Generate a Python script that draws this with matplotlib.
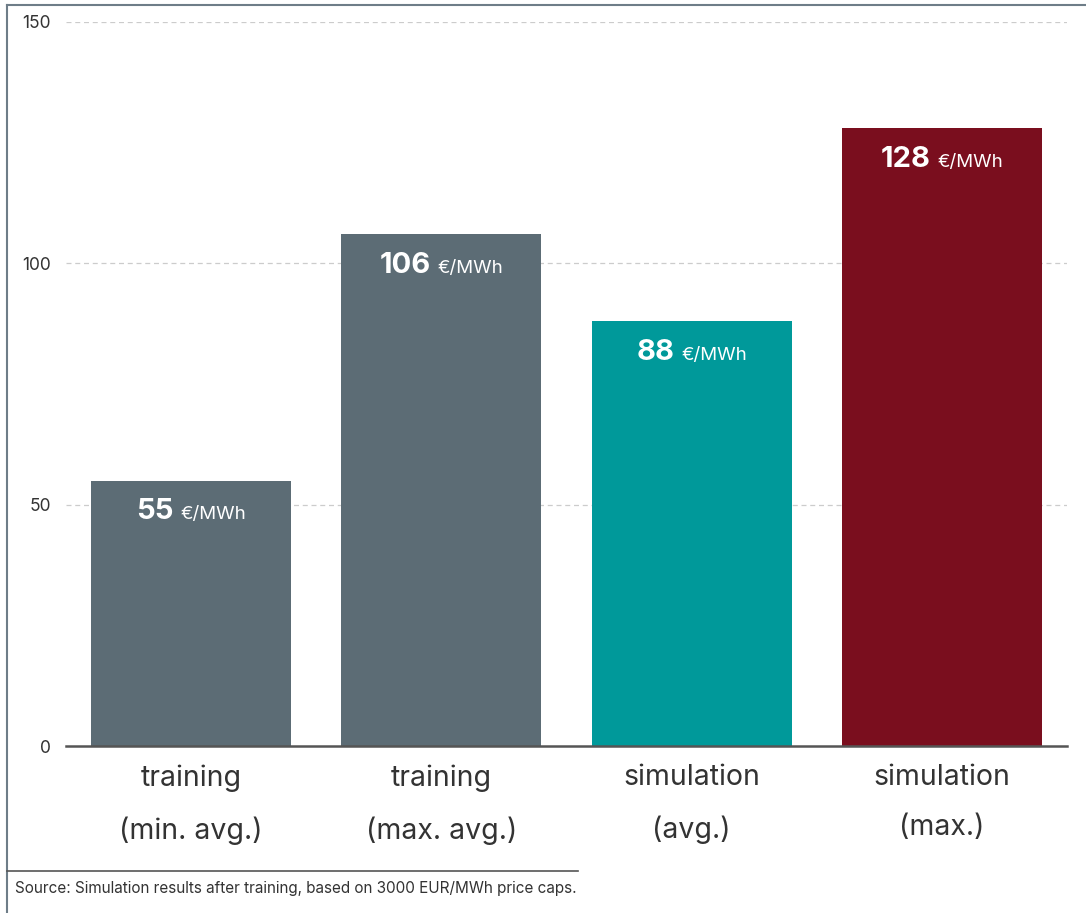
import matplotlib
matplotlib.use('Agg')
import matplotlib.pyplot as plt
from matplotlib.lines import Line2D
from matplotlib.offsetbox import TextArea, HPacker, AnnotationBbox

plt.rcParams['font.family'] = ['Inter', 'DejaVu Sans']

# データ
categories = ['training\n(min. avg.)', 'training\n(max. avg.)', 'simulation\n(avg.)', 'simulation\n(max.)']
values = [55, 106, 88, 128]
bar_colors = ['#5C6C75', '#5C6C75', '#00999A', '#7A0E1E']
unit = '€/MWh'
yticks = [0, 50, 100, 150]
source = 'Source: Simulation results after training, based on 3000 EUR/MWh price caps.'

fig = plt.figure(figsize=(10.86, 9.13), dpi=100)
ax = fig.add_axes([66 / 1086, 1 - 746 / 913, 1001 / 1086, 724 / 913])

x = range(len(categories))
ax.bar(x, values, width=0.8, color=bar_colors, zorder=3)

ax.set_xlim(-0.5, len(categories) - 0.5)
ax.set_ylim(0, 150)
ax.set_yticks(yticks)
ax.set_yticklabels([str(t) for t in yticks], fontsize=12.5, color='#333333')
ax.set_xticks(list(x))
ax.set_xticklabels(categories, fontsize=20.5, color='#333333', linespacing=2.1)
ax.tick_params(axis='y', length=0, pad=11)
ax.tick_params(axis='x', length=0, pad=13)

# 補助線（グリッド）
for t in yticks[1:]:
    ax.axhline(t, color='#cccccc', linestyle=(0, (4, 3)), linewidth=0.9, zorder=1)

for s in ['top', 'right', 'left']:
    ax.spines[s].set_visible(False)
ax.spines['bottom'].set_color('#555555')
ax.spines['bottom'].set_linewidth(1.8)
ax.spines['bottom'].set_zorder(4)

# バーの値ラベル
for xi, v in zip(x, values):
    num = TextArea(str(v), textprops=dict(fontsize=21, fontweight='bold', color='white'))
    u = TextArea(unit, textprops=dict(fontsize=13.5, color='white'))
    box = HPacker(children=[num, u], align='baseline', pad=0, sep=5)
    ab = AnnotationBbox(box, (xi, v), xybox=(0, -22.5), xycoords='data',
                        boxcoords='offset points', frameon=False,
                        box_alignment=(0.5, 0.5), zorder=5)
    ax.add_artist(ab)

# 枠線
frame_c = '#6E7D88'
fig.add_artist(Line2D([7 / 1086, 1], [1 - 5 / 913, 1 - 5 / 913], color=frame_c, linewidth=1.5))
fig.add_artist(Line2D([7 / 1086, 7 / 1086], [0, 1 - 5 / 913], color=frame_c, linewidth=1.5))
fig.add_artist(Line2D([7 / 1086, 578 / 1086], [1 - 871 / 913, 1 - 871 / 913], color='#555555', linewidth=1.2))

fig.text(15 / 1086, 1 - 888 / 913, source, fontsize=11, color='#333333', va='center', ha='left')

fig.savefig('out.png', dpi=100)
